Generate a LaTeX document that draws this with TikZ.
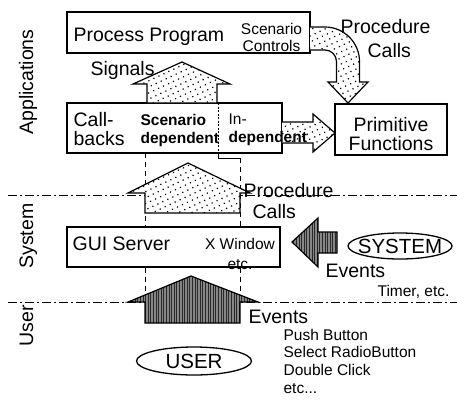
\documentclass[tikz,border=0pt]{standalone}
\usepackage{fontspec}
\setmainfont{Liberation Sans}
\usetikzlibrary{shapes.geometric,patterns.meta}
\definecolor{darkfill}{RGB}{135,135,135}
\definecolor{darkline}{RGB}{40,40,40}
\newcommand{\bigtxt}{\fontsize{19.5}{19}\selectfont}
\newcommand{\smalltxt}{\fontsize{15.5}{18}\selectfont}

\begin{document}
\begin{tikzpicture}[x=1pt, y=-1pt, line width=1.2pt,
      box/.style={rectangle, draw, fill=white, inner sep=0pt},
      ell/.style={ellipse, draw, fill=white, line width=1.3pt, inner sep=0pt, font=\fontsize{20.5}{20}\selectfont},
      big/.style={inner sep=0pt, font=\bigtxt},
      small/.style={inner sep=0pt, font=\smalltxt},
      side/.style={big, rotate=90, anchor=base},
      sep/.style={line width=1pt, dash pattern=on 9pt off 3pt on 2pt off 3pt},
      guide/.style={line width=0.8pt, dash pattern=on 5pt off 4pt},
      dotarrow/.style={draw, preaction={fill=white}, pattern={Dots[distance=5.5pt,radius=0.85pt,angle=25]}},
      darkarrow/.style={draw, preaction={fill=darkfill}, pattern color=darkline,
                        pattern={Lines[angle=90,distance=2.6pt,line width=0.9pt]}}]
    \useasboundingbox (0,0) rectangle (457,399);

    \node[side] (apps) at (33,82)  {Applications};
    \node[side] (syst) at (33,236) {System};
    \node[side] (user) at (33,326) {User};

    \draw[sep] (8,195) -- (457,195);
    \draw[sep] (8,302) -- (457,302);

    \node[box, minimum width=243, minimum height=41] (prog) at (188.5,32.5) {};
    \node[box, minimum width=215, minimum height=50] (cb)   at (174.5,128) {};
    \node[box, minimum width=213, minimum height=40] (gui)  at (173.5,247) {};
    \node[box, minimum width=112, minimum height=51] (prim) at (391,129.5) {};
    \draw[line width=0.8pt, dash pattern=on 2pt off 1.5pt] (218,103) -- (218,153);

    \coordinate (dep) at (145,153);
    \coordinate (ind) at (240,158);
    \draw[guide] (dep) -- (dep |- gui.north);
    \draw[guide] (dep |- gui.south) -- (145,300);
    \draw[guide] (ind) -- (ind |- gui.north);
    \draw[guide] (ind |- gui.south) -- (240,300);
    \draw[line width=0.8pt] (218,153) -- (218,158) -- (ind);

    \node[ell, minimum width=104, minimum height=26] (sys) at (400,246) {\makebox[0pt]{SYSTEM}};
    \node[ell, minimum width=115, minimum height=28] (usr) at (194,361) {\makebox[0pt]{USER}};

    \draw[dotarrow] (147,103) -- (147,84) -- (133,84) -- (182,62) -- (230,84) -- (217,84) -- (217,103) -- cycle;
    \draw[dotarrow] (145,213) -- (145,193) -- (128,193) -- (188,163) -- (250,193) -- (240,193) -- (240,213) -- cycle;
    \draw[dotarrow] (282,122) -- (313,122) -- (313,114) -- (335,133) -- (313,152) -- (313,143) -- (282,143);
    \draw[dotarrow] (310,27) -- (325,27) .. controls (344,27) and (359.5,42.5) .. (359.5,61.5)
      -- (359.5,82) -- (368,82) -- (348,103) -- (328,82) -- (336.5,82) -- (336.5,61.5)
      .. controls (336.5,55.2) and (331.3,50) .. (325,50) -- (310,50);
    \draw[darkarrow] (145,323) -- (145,302) -- (128,302) -- (191,276) -- (258,302) -- (240,302) -- (240,323) -- cycle;
    \draw[darkarrow] (337,232) -- (318,232) -- (318,218) -- (292,242) -- (318,267) -- (318,253) -- (337,253) -- cycle;

    \node[big, anchor=base west] (progtxt) at (73,41) {Process Program};
    \node[small, align=center] (ctrl) at (271.5,37.5) {Scenario\\[-1pt]Controls};
    \node[big, align=left, anchor=west] (cbtxt) at (73,129.4) {\fontsize{19.5}{23}\selectfont Call-\\backs};
    \node[small, align=left, anchor=west, font=\smalltxt\bfseries] (scen) at (140,130) {Scenario\\dependent};
    \node[small, align=left, anchor=west] (indep) at (228,130) {In-\\\textbf{dependent}};
    \node[big, align=center, font=\fontsize{19.5}{18.5}\selectfont] (primtxt) at (391,134) {Primitive\\Functions};
    \node[big, anchor=base west] (guitxt) at (72,250) {GUI Server};
    \node[small, align=center, font=\fontsize{15.5}{20.5}\selectfont] (xwin) at (240,254) {X Window\\etc.};

    \node[big, anchor=base west] (sig) at (90,75) {Signals};
    \node[big, anchor=base west] (pc1) at (340,33) {Procedure};
    \node[big, anchor=base west] (pc2) at (367,57) {Calls};
    \node[big, anchor=base west] (pc3) at (243,197) {Procedure};
    \node[big, anchor=base west] (pc4) at (252,218) {Calls};
    \node[big, anchor=base west] (ev1) at (325,277) {Events};
    \node[small, anchor=base west] (timer) at (377,296) {Timer, etc.};
    \node[big, anchor=base west] (ev2) at (248,323) {Events};
    \foreach \t [count=\i] in {Push Button, Select RadioButton, Double Click, etc.\kern0pt.\kern0pt.}
      \node[small, anchor=base west] (item\i) at (283,{340+17.7*(\i-1)}) {\t};
  \end{tikzpicture}
\end{document}
